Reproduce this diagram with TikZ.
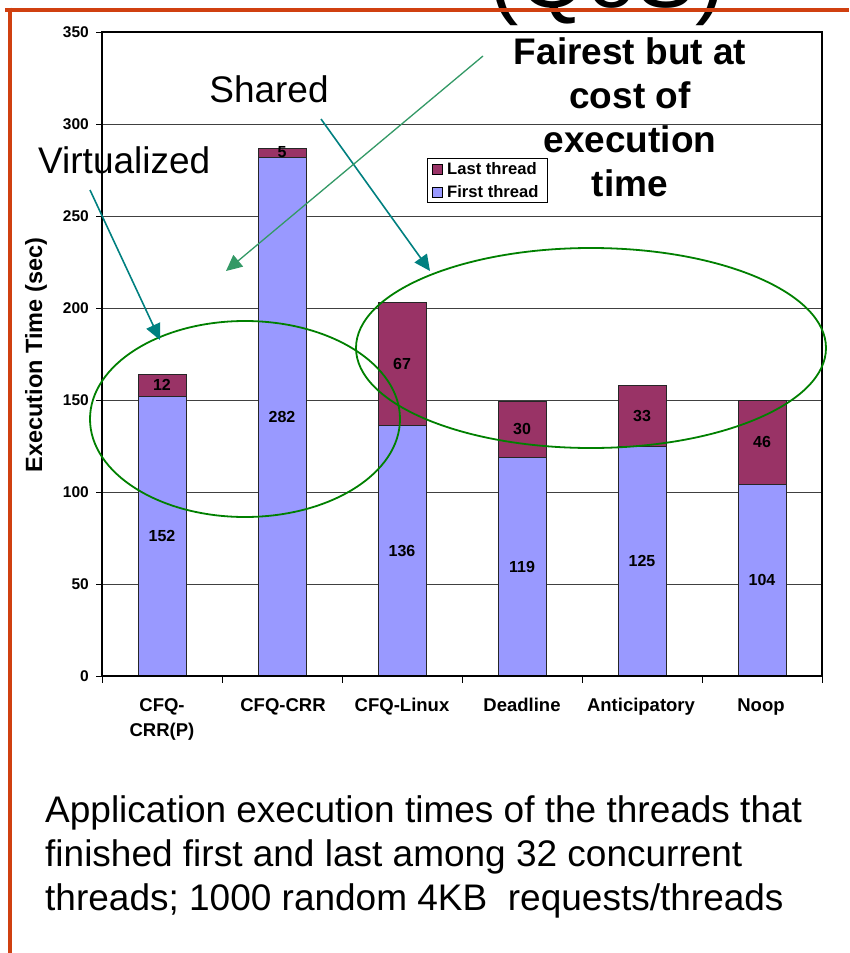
\documentclass[tikz,border=0pt]{standalone}
\usepackage{fontspec}
\setmainfont{Liberation Sans}
\usetikzlibrary{arrows.meta}

\definecolor{frameorange}{RGB}{208,64,16}
\definecolor{firstbar}{RGB}{153,153,255}
\definecolor{lastbar}{RGB}{153,51,102}
\definecolor{arrowteal}{RGB}{0,128,128}
\definecolor{arrowsea}{RGB}{51,153,102}
\definecolor{ringgreen}{RGB}{0,128,0}

\tikzset{
  gridline/.style={draw=black!75, line width=0.8pt},
  barfirst/.style={fill=firstbar, draw=black!85, line width=0.8pt},
  barlast/.style={fill=lastbar, draw=black!85, line width=0.8pt},
  vallabel/.style={font=\fontsize{16}{19}\selectfont\bfseries, inner sep=0pt},
  ticklabel/.style={font=\fontsize{15.5}{18}\selectfont\bfseries, inner sep=0pt, anchor=east},
  catlabel/.style={font=\fontsize{18.5}{25}\selectfont\bfseries, inner sep=0pt, anchor=base},
  legendtext/.style={font=\fontsize{16.6}{19}\selectfont\bfseries, inner sep=0pt, anchor=west},
  annot/.style={font=\fontsize{37}{44}\selectfont, inner sep=0pt},
  annotbold/.style={font=\fontsize{37}{44}\selectfont\bfseries, inner sep=0pt, anchor=base},
  captiontext/.style={font=\fontsize{37}{44}\selectfont, inner sep=0pt, anchor=base west},
  tealarrow/.style={draw=arrowteal, line width=1.6pt, -{Triangle[length=16pt,width=15pt]}},
  seaarrow/.style={draw=arrowsea, line width=1.3pt, -{Triangle[length=16pt,width=15pt]}},
  ring/.style={draw=ringgreen, line width=1.8pt},
}

\begin{document}
\begin{tikzpicture}[x=1pt, y=-1pt]
\useasboundingbox (0,0) rectangle (849,953);
\fill[white] (0,0) rectangle (849,953);

% slide title, mostly above the page edge
\node[font=\fontsize{88}{100}\selectfont, inner sep=0pt, anchor=base] (title) at (607,8) {(QoS)};

% slide frame
\draw[frameorange, line width=4pt] (5,9.5) -- (849,9.5);
\draw[frameorange, line width=4pt] (9.5,7.5) -- (9.5,953);

% horizontal grid and y ticks
\foreach \v in {50,100,...,300} {
  \draw[gridline] (102,{676-1.84*\v}) -- (822,{676-1.84*\v});
}
\foreach \v in {0,50,...,350} {
  \draw[black, line width=0.8pt] (96,{676-1.84*\v}) -- (102,{676-1.84*\v});
  \node[ticklabel] (ytick\v) at (89,{676-1.84*\v}) {\v};
}

% stacked bars: first thread + last thread
\foreach \i/\f/\l in {0/152/12, 1/282/5, 2/136/67, 3/119/30, 4/125/33, 5/104/46} {
  \pgfmathsetmacro\cx{162+120*\i}
  \pgfmathsetmacro\yf{676-1.84*\f}
  \pgfmathsetmacro\yl{676-1.84*(\f+\l)}
  \filldraw[barfirst] (\cx-24,676) rectangle (\cx+24,\yf);
  \filldraw[barlast] (\cx-24,\yf) rectangle (\cx+24,\yl);
  \node[vallabel] (first\i) at (\cx,{(676+\yf)/2}) {\f};
  \node[vallabel] (last\i) at (\cx,{(\yf+\yl)/2}) {\l};
}

% plot frame
\draw[black, line width=2pt] (102,32) -- (822,32);
\draw[black, line width=2pt] (102,31) -- (102,677);
\draw[black, line width=2.5pt] (822,31) -- (822,677);
\draw[black, line width=2pt] (101,676) -- (823,676);
\foreach \k in {0,...,6} {
  \draw[black, line width=0.8pt] ({102+120*\k},676) -- ({102+120*\k},683);
}

% category labels
\node[catlabel] (cat0a) at (162,711) {CFQ-};
\node[catlabel] (cat0b) at (162,736) {CRR(P)};
\node[catlabel] (cat1) at (283,711) {CFQ-CRR};
\node[catlabel] (cat2) at (402,711) {CFQ-Linux};
\node[catlabel] (cat3) at (522,711) {Deadline};
\node[catlabel] (cat4) at (641,711) {Anticipatory};
\node[catlabel] (cat5) at (761,711) {Noop};

% y axis title
\node[font=\fontsize{23.5}{27}\selectfont\bfseries, inner sep=0pt, rotate=90] (ytitle) at (36,355) {Execution Time (sec)};

% legend
\draw[black, line width=0.8pt, fill=white] (427,158) rectangle (547,202);
\filldraw[fill=lastbar, draw=black, line width=0.6pt] (432,164) rectangle (442,174);
\filldraw[fill=firstbar, draw=black, line width=0.6pt] (432,187) rectangle (442,197);
\node[legendtext] (leglast) at (447,169) {Last thread};
\node[legendtext] (legfirst) at (447,192) {First thread};

% groupings
\draw[ring] (245,419) ellipse [x radius=155pt, y radius=98pt];
\draw[ring] (591,348) ellipse [x radius=235pt, y radius=100pt];

% annotations
\node[annot, anchor=base west] (virt) at (38,173) {Virtualized};
\node[annot, anchor=base] (shared) at (269,102) {Shared};
\node[annotbold] (fair1) at (630,64) {Fairest but at};
\node[annotbold] (fair2) at (630,108) {cost of};
\node[annotbold] (fair3) at (630,152) {execution};
\node[annotbold] (fair4) at (630,196) {time};

\coordinate (virtTail) at (90,190);
\coordinate (virtTip) at (160,340);
\coordinate (sharedTail) at (321,119);
\coordinate (sharedTip) at (430,271);
\coordinate (fairTail) at (483,56);
\coordinate (fairTip) at (226,271);
\draw[tealarrow] (virtTail) -- (virtTip);
\draw[tealarrow] (sharedTail) -- (sharedTip);
\draw[seaarrow] (fairTail) -- (fairTip);

% caption
\node[captiontext] (cap1) at (45,822) {Application execution times of the threads that};
\node[captiontext] (cap2) at (45,866) {finished first and last among 32 concurrent};
\node[captiontext] (cap3) at (45,910) {threads; 1000 random 4KB\ \ requests/threads};
\end{tikzpicture}
\end{document}
